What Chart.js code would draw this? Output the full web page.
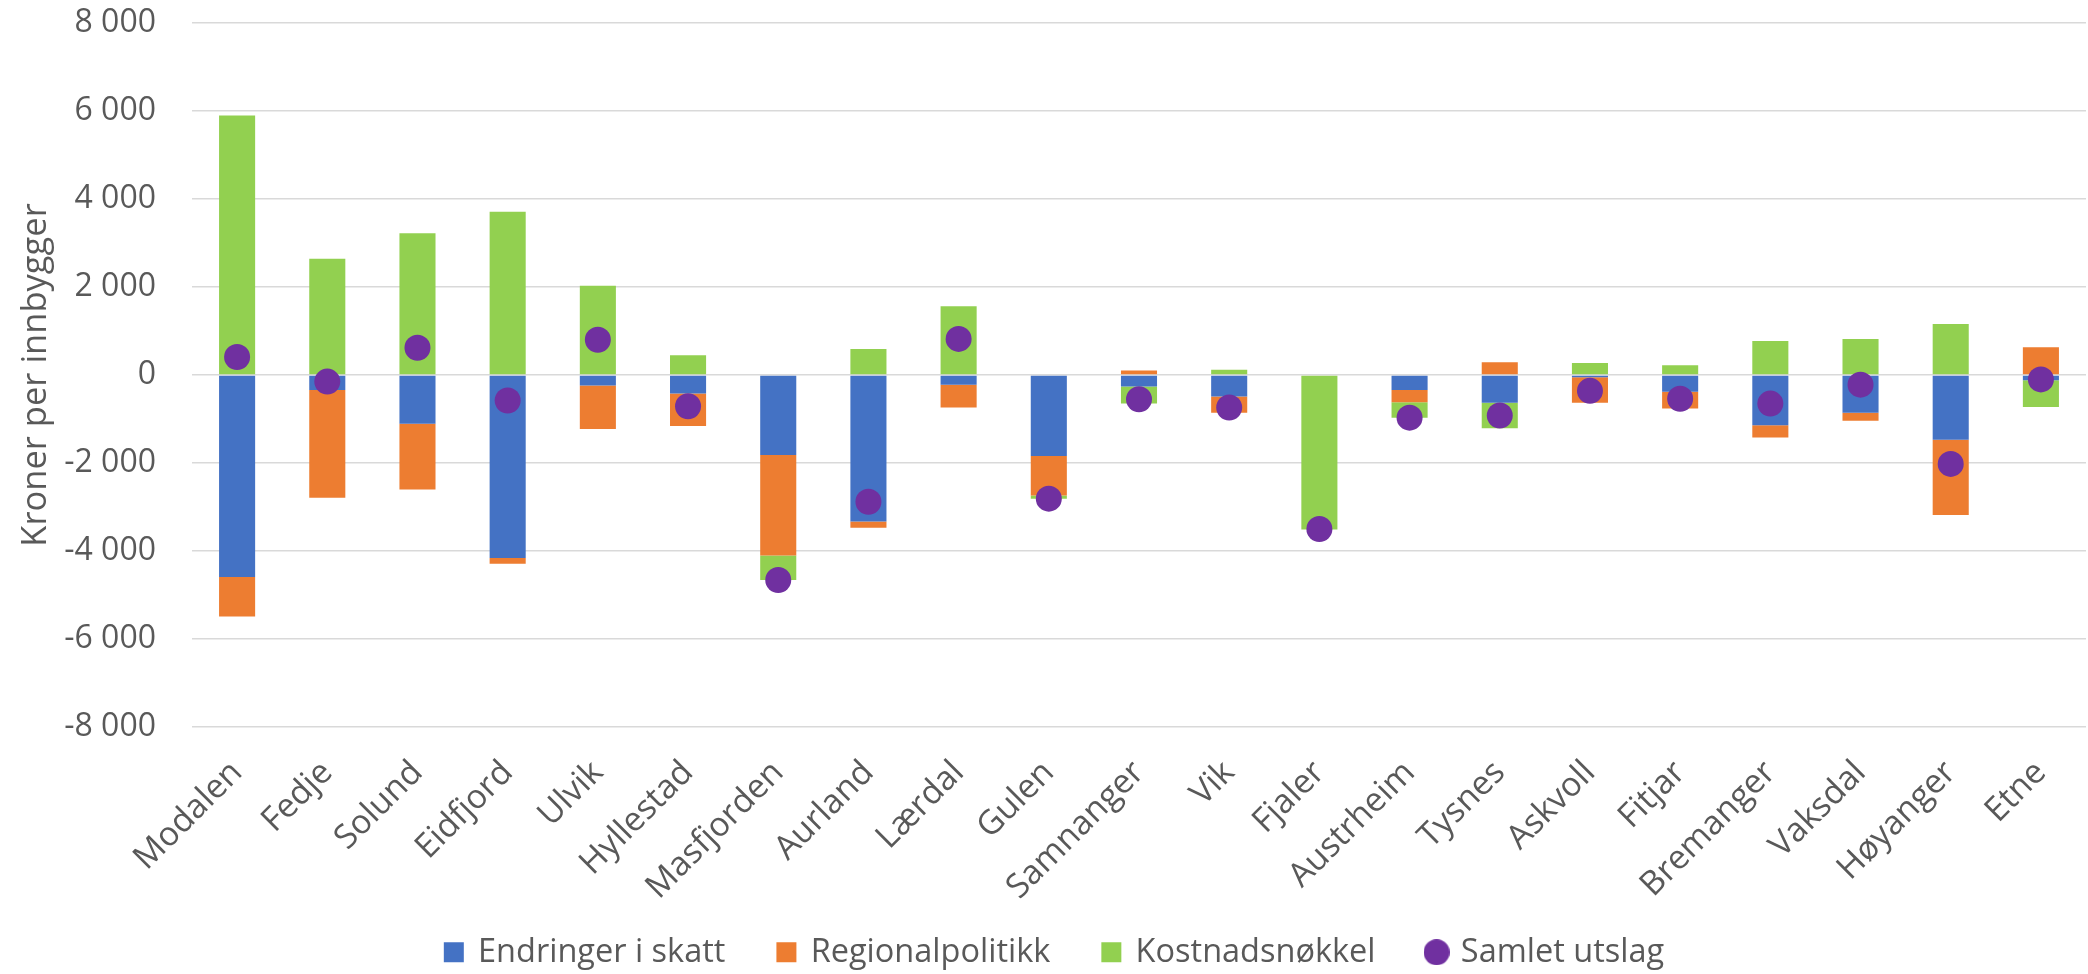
<!DOCTYPE html>
<html>
<head>
<meta charset="utf-8">
<script src="https://cdn.jsdelivr.net/npm/chart.js@4/dist/chart.umd.min.js"></script>
<style>
  html, body { margin: 0; padding: 0; background: #fff; }
  #wrap { width: 2088px; height: 974px; position: relative; }
</style>
</head>
<body>
<div id="wrap"><canvas id="chart"></canvas></div>
<script>
/* ======================= DATA ======================= */
const kommuner = ['Modalen', 'Fedje', 'Solund', 'Eidfjord', 'Ulvik', 'Hyllestad', 'Masfjorden',
  'Aurland', 'Lærdal', 'Gulen', 'Samnanger', 'Vik', 'Fjaler', 'Austrheim', 'Tysnes', 'Askvoll',
  'Fitjar', 'Bremanger', 'Vaksdal', 'Høyanger', 'Etne'];

const skatt = [-4590, -340, -1110, -4160, -240, -420, -1820, -3330, -220, -1840, -260, -490,
  0, -340, -630, -50, -380, -1140, -860, -1470, -120];
const regional = [-900, -2450, -1490, -130, -990, -740, -2280, -140, -520, -900, 100, -370,
  0, -280, 290, -580, -380, -280, -180, -1710, 630];
const kostnad = [5900, 2640, 3220, 3710, 2030, 450, -560, 590, 1560, -70, -390, 120,
  -3510, -350, -580, 270, 220, 770, 820, 1160, -610];
const samlet = [410, -150, 620, -580, 800, -710, -4660, -2880, 820, -2810, -550, -740,
  -3500, -970, -920, -360, -540, -650, -220, -2020, -100];

const yTicks = [-8000, -6000, -4000, -2000, 0, 2000, 4000, 6000, 8000];

/* ======================= STYLE ======================= */
const FONT = "'Open Sans', 'Noto Sans', sans-serif";
const TXT = '#595959';
const COL = { skatt: '#4472C4', regional: '#ED7D31', kostnad: '#92D050', samlet: '#7030A0' };

const fmt = v => (v < 0 ? '-' : '') + String(Math.abs(v)).replace(/\B(?=(\d{3})+(?!\d))/g, ' ');

// round marker for the legend entry of the dots
const dotImg = document.createElement('canvas');
dotImg.width = dotImg.height = 26;
const dctx = dotImg.getContext('2d');
dctx.fillStyle = COL.samlet;
dctx.beginPath();
dctx.arc(13, 13, 13, 0, Math.PI * 2);
dctx.fill();

function barSet(label, data, colour) {
  return { type: 'bar', label, data, backgroundColor: colour, borderWidth: 0,
    pointStyle: 'rect', stack: 'komp', barPercentage: 0.4, categoryPercentage: 1 };
}

/* ======================= CHART ======================= */
new Chart(document.getElementById('chart'), {
  data: {
    labels: kommuner,
    datasets: [
      barSet('Endringer i skatt', skatt, COL.skatt),
      barSet('Regionalpolitikk', regional, COL.regional),
      barSet('Kostnadsnøkkel', kostnad, COL.kostnad),
      {
        type: 'line', label: 'Samlet utslag', data: samlet, showLine: false,
        backgroundColor: COL.samlet, borderColor: COL.samlet,
        pointRadius: 13, pointHoverRadius: 13, pointBorderWidth: 0,
        stack: 'samlet', order: -1
      }
    ]
  },
  options: {
    responsive: true,
    maintainAspectRatio: false,
    animation: false,
    devicePixelRatio: 1,
    layout: { autoPadding: false, padding: { top: 23, right: 2, bottom: 0, left: 24 } },
    plugins: {
      tooltip: { enabled: false },
      legend: {
        position: 'bottom',
        maxHeight: 91,
        labels: {
          usePointStyle: true,
          boxWidth: 16,
          boxHeight: 20,
          padding: 53,
          color: TXT,
          font: { family: FONT, size: 32.5 },
          generateLabels(chart) {
            const items = Chart.defaults.plugins.legend.labels.generateLabels(chart);
            items.forEach(it => { if (it.datasetIndex === 3) it.pointStyle = dotImg; });
            return items.sort((a, b) => a.datasetIndex - b.datasetIndex);
          }
        }
      }
    },
    scales: {
      x: {
        stacked: true,
        grid: { display: false },
        border: { display: false },
        ticks: {
          autoSkip: false, minRotation: 45, maxRotation: 45, padding: 18,
          color: TXT, font: { family: FONT, size: 33.5 }
        },
        afterFit: s => {
          s.height = 156;
          s._computeLabelArea = () => undefined; // long names run down past the axis box
        }
      },
      y: {
        stacked: true,
        min: -8000,
        max: 8000,
        afterBuildTicks: s => { s.ticks = yTicks.map(v => ({ value: v })); },
        grid: { color: '#d9d9d9', lineWidth: 1.5, drawTicks: false },
        border: { display: false },
        ticks: {
          padding: 36, color: TXT, font: { family: FONT, size: 32 },
          callback: v => fmt(v)
        },
        title: {
          display: true, text: 'Kroner per innbygger', color: TXT,
          font: { family: FONT, size: 34.5 }, padding: { top: -9, bottom: 0 }
        },
        afterFit: s => { s.width = 168; s.paddingTop = 0; s.paddingBottom = 0; }
      }
    }
  }
});
</script>
</body>
</html>
